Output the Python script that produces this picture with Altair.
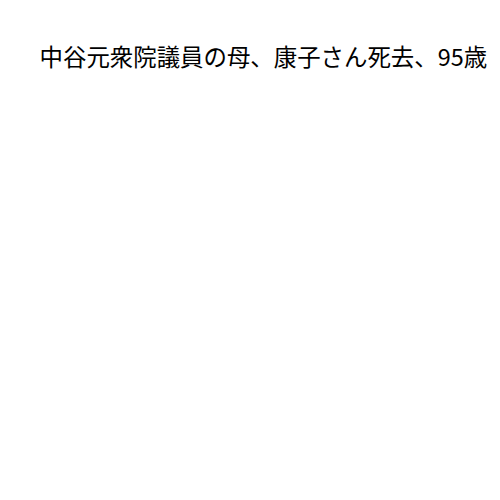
import altair as alt
import pandas as pd

title_text = "中谷元衆院議員の母、康子さん死去、95歳"
xs = []
ys = []

df = pd.DataFrame({"x": xs, "y": ys})

chart = alt.Chart(df).mark_point(opacity=0).encode(
    x=alt.X("x:Q", axis=None),
    y=alt.Y("y:Q", axis=None),
).properties(
    width=484,
    height=420,
    title=alt.TitleParams(
        title_text,
        anchor="start",
        font="Noto Sans CJK JP",
        fontSize=26,
        fontWeight="normal",
        color="#000000",
        dx=30,
        dy=45,
    ),
).configure_view(stroke=None)

chart.save("out.html", embed_options={"renderer": "svg", "actions": False})
